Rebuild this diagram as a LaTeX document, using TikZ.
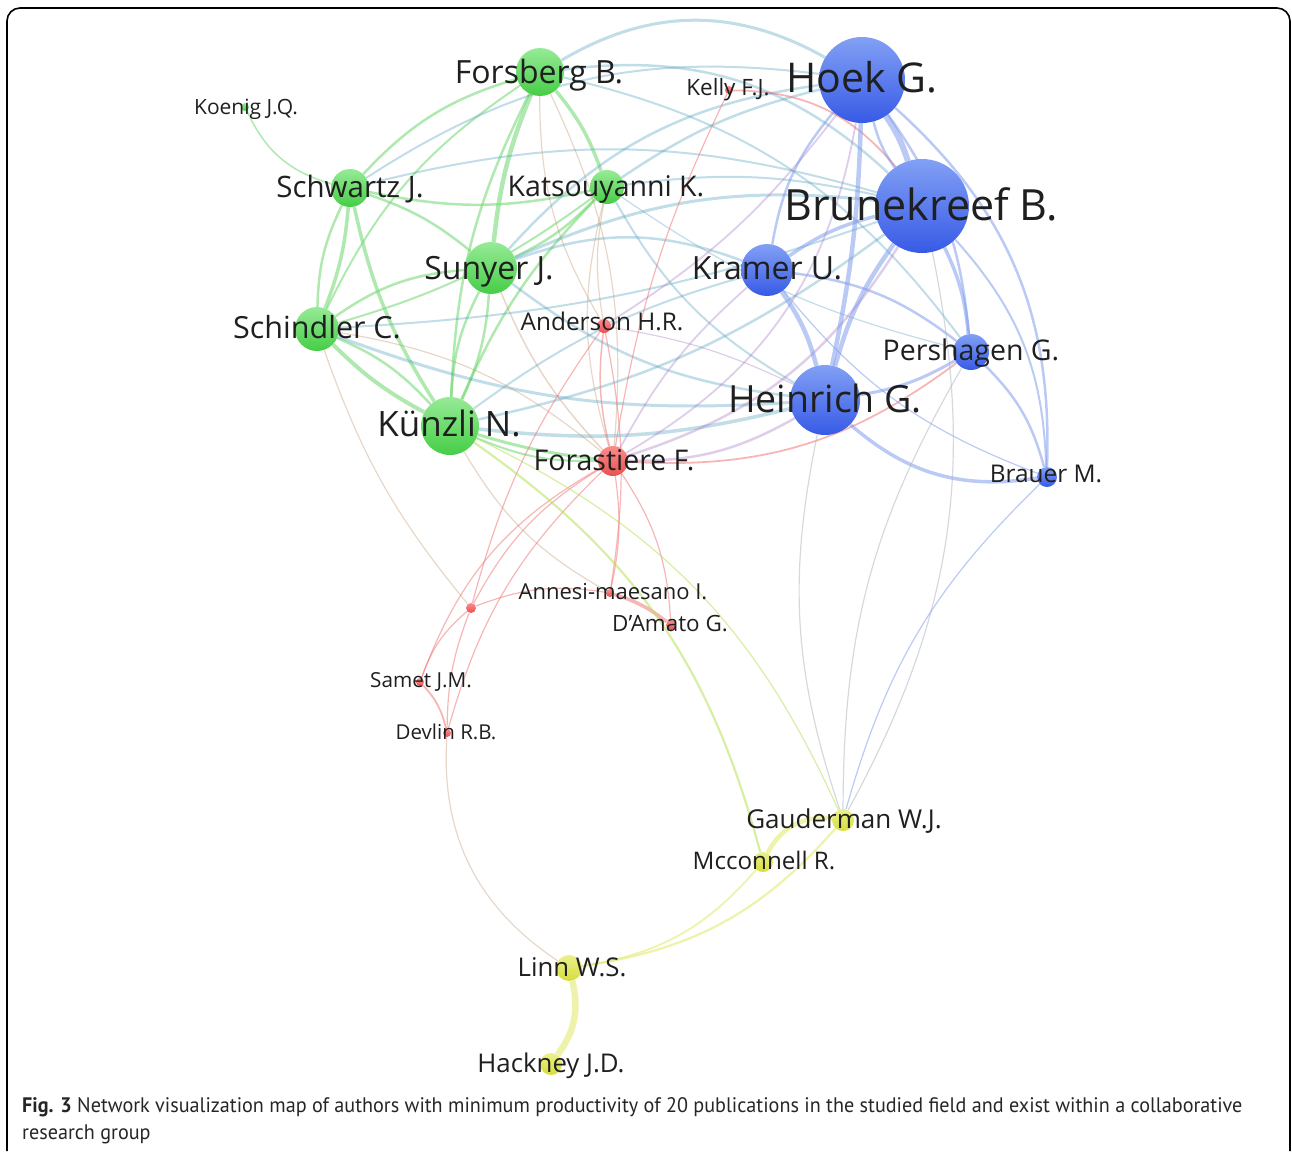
\documentclass[tikz,border=0pt]{standalone}
\usepackage{fontspec}
\setmainfont{Open Sans}
\newfontfamily\capfont{PT Sans}[FakeStretch=0.96]
\usetikzlibrary{backgrounds}
\definecolor{gT}{RGB}{150,235,150}\definecolor{gB}{RGB}{70,205,70}
\definecolor{bT}{RGB}{130,160,245}\definecolor{bB}{RGB}{55,90,230}
\definecolor{rT}{RGB}{250,140,140}\definecolor{rB}{RGB}{235,80,80}
\definecolor{yT}{RGB}{235,240,140}\definecolor{yB}{RGB}{215,222,60}
\definecolor{cg}{RGB}{110,215,110}
\definecolor{cb}{RGB}{120,150,235}
\definecolor{cr}{RGB}{240,110,110}
\definecolor{cy}{RGB}{225,232,100}
\definecolor{ct}{RGB}{80,160,190}
\definecolor{cp}{RGB}{160,110,190}
\definecolor{co}{RGB}{190,150,110}
\definecolor{cl}{RGB}{180,225,90}
\definecolor{cs}{RGB}{170,180,190}
\tikzset{
  gnode/.style={circle,inner sep=0pt,draw=none,top color=gT,bottom color=gB},
  bnode/.style={circle,inner sep=0pt,draw=none,top color=bT,bottom color=bB},
  rnode/.style={circle,inner sep=0pt,draw=none,top color=rT,bottom color=rB},
  ynode/.style={circle,inner sep=0pt,draw=none,top color=yT,bottom color=yB},
  eg/.style={draw=cg,draw opacity=.55},
  eb/.style={draw=cb,draw opacity=.5},
  er/.style={draw=cr,draw opacity=.5},
  ey/.style={draw=cy,draw opacity=.55},
  et/.style={draw=ct,draw opacity=.36},
  ep/.style={draw=cp,draw opacity=.34},
  eo/.style={draw=co,draw opacity=.38},
  el/.style={draw=cl,draw opacity=.55},
  es/.style={draw=cs,draw opacity=.5},
  lab/.style={inner sep=0pt,text=black!88},
}
\newcommand\lbl[5]{\node[lab,font=\fontsize{#4pt}{#4pt}\selectfont,anchor=base] (#1) at (#2,{#3+0.36*#4}) {#5};}
\begin{document}
\begin{tikzpicture}[x=1pt,y=-1pt]
\useasboundingbox (0,0) rectangle (1292,1151);
\draw[line width=1.6,rounded corners=13] (7,1151) -- (7,8) -- (1290,8) -- (1290,1151);
% nodes
\node[gnode,minimum size=8] (koenig) at (245,107) {};
\node[gnode,minimum size=38] (schwartz) at (350,188) {};
\node[gnode,minimum size=48] (forsberg) at (540,72) {};
\node[gnode,minimum size=34] (katsou) at (607,187) {};
\node[gnode,minimum size=52] (sunyer) at (491,268) {};
\node[gnode,minimum size=44] (schindler) at (317,329) {};
\node[gnode,minimum size=58] (kunzli) at (450,426) {};
\node[rnode,minimum size=8] (kelly) at (729,90) {};
\node[rnode,minimum size=14] (anderson) at (604,326) {};
\node[rnode,minimum size=30] (forastiere) at (613,461) {};
\node[rnode,minimum size=10] (unk) at (471,608) {};
\node[rnode,minimum size=8] (annesi) at (610,593) {};
\node[rnode,minimum size=10] (damato) at (671,625) {};
\node[rnode,minimum size=8] (samet) at (420,682) {};
\node[rnode,minimum size=8] (devlin) at (447,733) {};
\node[bnode,minimum size=86] (hoek) at (862,80) {};
\node[bnode,minimum size=94] (brun) at (922,206) {};
\node[bnode,minimum size=52] (kramer) at (767,270) {};
\node[bnode,minimum size=36] (pershagen) at (971,352) {};
\node[bnode,minimum size=70] (heinrich) at (825,400) {};
\node[bnode,minimum size=20] (brauer) at (1047,477) {};
\node[ynode,minimum size=22] (gauderman) at (843,820) {};
\node[ynode,minimum size=20] (mcconnell) at (763,862) {};
\node[ynode,minimum size=26] (linn) at (569,968) {};
\node[ynode,minimum size=22] (hackney) at (551,1064) {};
% edges
\begin{pgfonlayer}{background}
% green
\draw[eg,line width=1.5] (koenig) to[bend right=25] (schwartz);
\draw[eg,line width=2.5] (forsberg) to[bend right=15] (schwartz);
\draw[eg,line width=2.5] (schwartz) to[bend right=12] (katsou);
\draw[eg,line width=3.5] (schwartz) to[bend left=8] (schindler);
\draw[eg,line width=2.5] (schwartz) to[bend right=12] (schindler);
\draw[eg,line width=3.5] (schwartz) to[bend right=10] (kunzli);
\draw[eg,line width=2.5] (schwartz) to[bend left=10] (sunyer);
\draw[eg,line width=4] (schindler) to[bend right=8] (kunzli);
\draw[eg,line width=2.5] (schindler) to[bend left=12] (kunzli);
\draw[eg,line width=2.5] (schindler) to[bend left=15] (sunyer);
\draw[eg,line width=2] (schindler) to[bend left=15] (forsberg);
\draw[eg,line width=2] (schindler) to[bend right=10] (katsou);
\draw[eg,line width=2.5] (sunyer) to[bend left=10] (kunzli);
\draw[eg,line width=2.5] (kunzli) to[bend left=12] (sunyer);
\draw[eg,line width=4.5] (forsberg) to[bend right=8] (sunyer);
\draw[eg,line width=2.5] (forsberg) to[bend right=12] (kunzli);
\draw[eg,line width=3.5] (forsberg) to[bend left=10] (katsou);
\draw[eg,line width=2.5] (katsou) to[bend left=10] (sunyer);
\draw[eg,line width=2.5] (katsou) to[bend right=10] (kunzli);
\draw[eg,line width=3] (kunzli) to[bend right=5] (forastiere);
\draw[eg,line width=2] (kunzli) to[bend right=12] (forastiere);
% teal
\draw[et,line width=3] (forsberg) to[bend left=30] (hoek);
\draw[et,line width=2.5] (forsberg) to[bend left=25] (brun);
\draw[et,line width=2] (schwartz) to[bend left=20] (hoek);
\draw[et,line width=2] (schwartz) to[bend left=15] (brun);
\draw[et,line width=2.5] (katsou) to[bend left=10] (hoek);
\draw[et,line width=2] (katsou) to[bend left=10] (brun);
\draw[et,line width=2] (katsou) to[bend right=15] (heinrich);
\draw[et,line width=2.5] (sunyer) to[bend left=20] (hoek);
\draw[et,line width=3] (sunyer) to[bend left=15] (brun);
\draw[et,line width=2.5] (sunyer) to[bend left=20] (kramer);
\draw[et,line width=2.5] (sunyer) to[bend right=15] (heinrich);
\draw[et,line width=3] (schindler) to[bend right=12] (heinrich);
\draw[et,line width=2] (schindler) to[bend right=8] (brun);
\draw[et,line width=3.5] (kunzli) to[bend right=10] (heinrich);
\draw[et,line width=2.5] (kunzli) to[bend right=12] (brun);
\draw[et,line width=2] (kunzli) to[bend left=10] (kramer);
\draw[et,line width=2] (forsberg) to[bend left=20] (pershagen);
\draw[et,line width=1.2] (katsou) to[bend right=10] (pershagen);
% red & mixed
\draw[er,line width=1.5] (forastiere) to[bend left=10] (anderson);
\draw[er,line width=1.2] (kelly) to[bend right=8] (forastiere);
\draw[er,line width=1.8] (kelly) to[bend left=25] (brun);
\draw[eo,line width=1.2] (anderson) to[bend left=10] (katsou);
\draw[eo,line width=1.2] (anderson) to[bend left=15] (forsberg);
\draw[ep,line width=1.8] (anderson) to[bend right=10] (hoek);
\draw[ep,line width=1.2] (anderson) to[bend left=8] (heinrich);
\draw[ep,line width=2.5] (forastiere) to[bend right=15] (heinrich);
\draw[ep,line width=2.5] (forastiere) to[bend right=20] (brun);
\draw[ep,line width=1.8] (forastiere) to[bend right=25] (hoek);
\draw[ep,line width=1.8] (forastiere) to[bend left=10] (kramer);
\draw[er,line width=1.8] (forastiere) to[bend right=20] (pershagen);
\draw[eo,line width=1.5] (forastiere) to[bend left=10] (sunyer);
\draw[eo,line width=1.2] (forastiere) to[bend left=15] (katsou);
\draw[eo,line width=1.2] (forastiere) to[bend right=15] (forsberg);
\draw[eo,line width=1.2] (forastiere) to[bend right=15] (schindler);
\draw[er,line width=1.2] (forastiere) to[bend right=15] (unk);
\draw[er,line width=1.2] (forastiere) to[bend left=10] (annesi);
\draw[er,line width=1.2] (forastiere) to[bend left=15] (damato);
\draw[er,line width=1.2] (forastiere) to[bend right=20] (samet);
\draw[er,line width=1.2] (forastiere) to[bend right=15] (devlin);
\draw[er,line width=1.2] (anderson) to[bend left=10] (annesi);
\draw[er,line width=1.2] (anderson) to[bend right=10] (unk);
\draw[er,line width=1.2] (unk) to[bend left=15] (annesi);
\draw[er,line width=1.2] (unk) to[bend right=15] (samet);
\draw[er,line width=1.2] (unk) to[bend right=10] (devlin);
\draw[er,line width=1.8] (samet) to[bend left=15] (devlin);
\draw[er,line width=3.5] (annesi) to[bend left=10] (damato);
\draw[eo,line width=1.2] (schindler) to[bend right=10] (unk);
\draw[eo,line width=1.2] (kunzli) to[bend right=15] (annesi);
\draw[eo,line width=1.2] (devlin) to[bend right=30] (linn);
% blue
\draw[eb,line width=6] (hoek) to[bend left=8] (brun);
\draw[eb,line width=2.5] (hoek) to[bend right=10] (brun);
\draw[eb,line width=2.5] (hoek) to[bend right=15] (kramer);
\draw[eb,line width=4.5] (hoek) to[bend left=5] (heinrich);
\draw[eb,line width=2.5] (hoek) to[bend left=15] (pershagen);
\draw[eb,line width=2.5] (hoek) to[bend left=25] (brauer);
\draw[eb,line width=3.5] (brun) to[bend right=10] (kramer);
\draw[eb,line width=4.5] (brun) to[bend right=10] (heinrich);
\draw[eb,line width=3.5] (brun) to[bend left=10] (pershagen);
\draw[eb,line width=2] (brun) to[bend left=20] (brauer);
\draw[eb,line width=4.5] (kramer) to[bend left=10] (heinrich);
\draw[eb,line width=2.5] (kramer) to[bend left=15] (pershagen);
\draw[eb,line width=1.2] (kramer) to[bend right=15] (brauer);
\draw[eb,line width=3] (heinrich) to[bend right=10] (pershagen);
\draw[eb,line width=3.5] (heinrich) to[bend right=25] (brauer);
\draw[eb,line width=2.5] (pershagen) to[bend left=15] (brauer);
% yellow
\draw[ey,line width=6.5] (hackney) to[bend right=25] (linn);
\draw[ey,line width=2.2] (linn) to[bend right=20] (gauderman);
\draw[ey,line width=1.8] (linn) to[bend right=20] (mcconnell);
\draw[ey,line width=4.5] (gauderman) to[bend right=35] (mcconnell);
\draw[el,line width=2.2] (mcconnell) to[bend right=20] (kunzli);
\draw[el,line width=1.2] (kunzli) to[bend left=20] (gauderman);
\draw[es,line width=1.2] (heinrich) to[bend right=15] (gauderman);
\draw[es,line width=1.2] (pershagen) to[bend right=15] (gauderman);
\draw[es,line width=1.2] (brun) to[bend left=20] (gauderman);
\draw[eb,line width=1.2] (brauer) to[bend right=15] (gauderman);
\end{pgfonlayer}
% labels
\lbl{lkoenig}{246}{107}{21}{Koenig J.Q.}
\lbl{lschwartz}{350}{187}{29.5}{Schwartz J.}
\lbl{lforsberg}{539}{72}{32}{Forsberg B.}
\lbl{lkatsou}{606}{186}{28.5}{Katsouyanni K.}
\lbl{lsunyer}{489}{268}{32}{Sunyer J.}
\lbl{lschindler}{317}{328}{30.5}{Schindler C.}
\lbl{lkunzli}{449}{424}{35}{Künzli N.}
\lbl{lkelly}{728}{87}{22.5}{Kelly F.J.}
\lbl{landerson}{602}{322}{24.4}{Anderson H.R.}
\lbl{lforastiere}{614}{460}{28.5}{Forastiere F.}
\lbl{lannesi}{613}{592}{22}{Annesi-maesano I.}
\lbl{ldamato}{670}{623}{22.4}{D'Amato G.}
\lbl{lsamet}{421}{680}{20.7}{Samet J.M.}
\lbl{ldevlin}{446}{732}{20.5}{Devlin R.B.}
\lbl{lhoek}{862}{78}{41}{Hoek G.}
\lbl{lbrun}{921}{205}{43}{Brunekreef B.}
\lbl{lkramer}{767}{268}{32}{Kramer U.}
\lbl{lpershagen}{971}{350}{28.5}{Pershagen G.}
\lbl{lheinrich}{825}{399}{37.5}{Heinrich G.}
\lbl{lbrauer}{1046}{474}{24.4}{Brauer M.}
\lbl{lgauderman}{844}{819}{26}{Gauderman W.J.}
\lbl{lmcconnell}{764}{861}{24.2}{Mcconnell R.}
\lbl{llinn}{572}{967}{25.8}{Linn W.S.}
\lbl{lhackney}{551}{1063}{25.8}{Hackney J.D.}
% caption
\node[anchor=base west,inner sep=0pt,font=\capfont\fontsize{21pt}{27pt}\selectfont,text=black!85] (capA) at (22,1112) {\textbf{Fig. 3} Network visualization map of authors with minimum productivity of 20 publications in the studied field and exist within a collaborative};
\node[anchor=base west,inner sep=0pt,font=\capfont\fontsize{21pt}{27pt}\selectfont,text=black!85] (capB) at (22,1139) {research group};
\end{tikzpicture}
\end{document}
